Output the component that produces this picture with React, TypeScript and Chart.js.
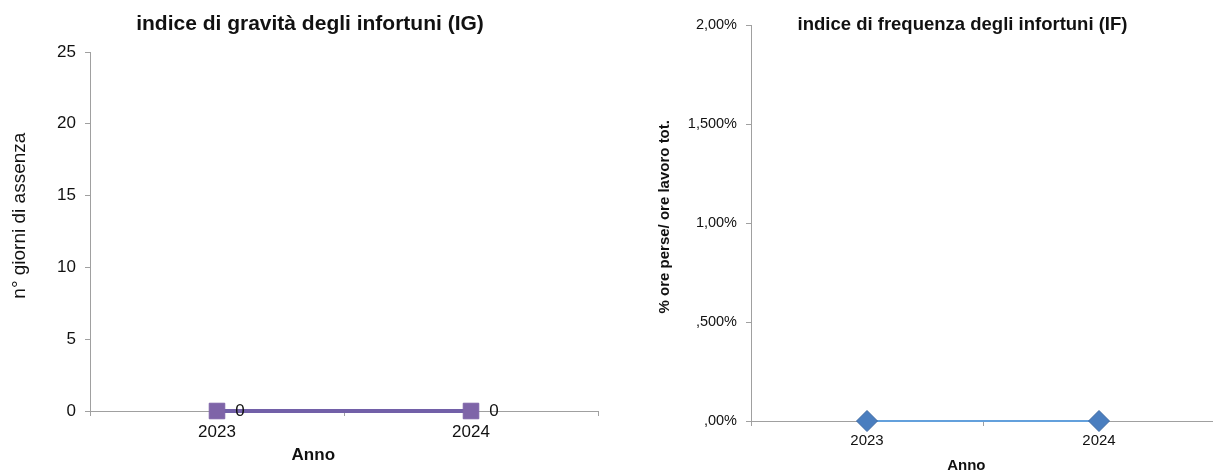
import React, { useEffect, useRef } from 'react';
import { Chart, registerables } from 'chart.js';

Chart.register(...registerables);

// ---- data ----
const years = ['2023', '2024'];
const igValues = [0, 0];
const ifValues = [0, 0];
const ifTickLabels = [',00%', ',500%', '1,00%', '1,500%', '2,00%'];

const igTitle = 'indice di gravità degli infortuni (IG)';
const ifTitle = 'indice di frequenza degli infortuni (IF)';
const igYTitle = '      n° giorni di assenza';
const ifYTitle = '   % ore perse/ ore lavoro tot.';
const igXTitle = 'Anno             ';
const ifXTitle = 'Anno        ';

const FONT = "'Liberation Sans', Arial, Helvetica, sans-serif";
const TEXT = '#111111';
const AXIS = '#A0A0A0';

const valueLabels = {
  id: 'valueLabels',
  afterDatasetsDraw(chart: any, _args: any, opts: any) {
    if (!opts || !opts.display) return;
    const ctx = chart.ctx;
    chart.data.datasets.forEach((ds: any, di: number) => {
      const meta = chart.getDatasetMeta(di);
      meta.data.forEach((pt: any, i: number) => {
        ctx.save();
        ctx.font = `${opts.size}px ${FONT}`;
        ctx.fillStyle = opts.color;
        ctx.textAlign = 'center';
        ctx.textBaseline = 'middle';
        ctx.fillText(String(ds.data[i]), pt.x + opts.offsetX, pt.y);
        ctx.restore();
      });
    });
  },
};

function leftConfig(): any {
  return {
    type: 'line',
    data: {
      labels: years,
      datasets: [
        {
          data: igValues,
          borderColor: '#7260A8',
          borderWidth: 4,
          pointStyle: 'rect',
          pointRadius: 11,
          pointHoverRadius: 11,
          pointBackgroundColor: '#7E64A8',
          pointBorderColor: '#7E64A8',
          pointBorderWidth: 1,
          tension: 0,
          clip: false,
        },
      ],
    },
    plugins: [valueLabels],
    options: {
      animation: false,
      responsive: false,
      events: [],
      layout: { padding: { left: 17, right: 7, top: 0, bottom: 0 } },
      plugins: {
        legend: { display: false },
        tooltip: { enabled: false },
        valueLabels: { display: true, size: 17, color: TEXT, offsetX: 23 },
        title: {
          display: true,
          text: igTitle,
          color: TEXT,
          font: { family: FONT, size: 21, weight: 'bold' },
          padding: { top: 11.7, bottom: 15.1 },
        },
      },
      scales: {
        x: {
          type: 'category',
          offset: true,
          grid: { display: true, offset: true, drawOnChartArea: false, tickLength: 5, color: AXIS },
          border: { display: true, color: AXIS, width: 1 },
          ticks: { font: { family: FONT, size: 17 }, color: TEXT, padding: 6, maxRotation: 0 },
          title: {
            display: true,
            text: igXTitle,
            color: TEXT,
            font: { family: FONT, size: 17, weight: 'bold' },
            padding: { top: 0, bottom: 5.8 },
          },
          afterFit: (s: any) => {
            s.height = 60;
          },
        },
        y: {
          min: 0,
          max: 25,
          grid: { display: true, drawOnChartArea: false, tickLength: 5, color: AXIS },
          border: { display: true, color: AXIS, width: 1 },
          ticks: { stepSize: 5, font: { family: FONT, size: 17 }, color: TEXT, padding: 9 },
          title: {
            display: true,
            text: igYTitle,
            color: TEXT,
            font: { family: FONT, size: 19 },
            padding: { top: -9, bottom: 0 },
          },
          afterFit: (s: any) => {
            s.width = 73;
          },
        },
      },
    },
  };
}

function rightConfig(): any {
  return {
    type: 'line',
    data: {
      labels: years,
      datasets: [
        {
          data: ifValues,
          borderColor: '#63A0DC',
          borderWidth: 2,
          pointStyle: 'rectRot',
          pointRadius: 10.5,
          pointHoverRadius: 10.5,
          pointBackgroundColor: '#4A7EBF',
          pointBorderColor: '#3E6AA3',
          pointBorderWidth: 1,
          tension: 0,
          clip: false,
        },
      ],
    },
    options: {
      animation: false,
      responsive: false,
      events: [],
      layout: { padding: { left: 40, right: 0, top: 0, bottom: 0 } },
      plugins: {
        legend: { display: false },
        tooltip: { enabled: false },
        title: {
          display: true,
          text: ifTitle,
          color: TEXT,
          font: { family: FONT, size: 18.5, weight: 'bold' },
          padding: { top: 13.5, bottom: -10.7 },
        },
      },
      scales: {
        x: {
          type: 'category',
          offset: true,
          grid: { display: true, offset: true, drawOnChartArea: false, tickLength: 5, color: AXIS },
          border: { display: true, color: AXIS, width: 1 },
          ticks: { font: { family: FONT, size: 15 }, color: TEXT, padding: 6, maxRotation: 0 },
          title: {
            display: true,
            text: ifXTitle,
            color: TEXT,
            font: { family: FONT, size: 15, weight: 'bold' },
            padding: { top: 0, bottom: -4 },
          },
          afterFit: (s: any) => {
            s.height = 50;
          },
        },
        y: {
          min: 0,
          max: 2,
          grid: { display: true, drawOnChartArea: false, tickLength: 5, color: AXIS },
          border: { display: true, color: AXIS, width: 1 },
          ticks: {
            stepSize: 0.5,
            font: { family: FONT, size: 14.5 },
            color: TEXT,
            padding: 9,
            callback: (_v: any, i: number) => ifTickLabels[i],
          },
          title: {
            display: true,
            text: ifYTitle,
            color: TEXT,
            font: { family: FONT, size: 15, weight: 'bold' },
            padding: { top: -24.4, bottom: 0 },
          },
          afterFit: (s: any) => {
            s.width = 71;
          },
        },
        pad: {
          type: 'linear',
          position: 'right',
          display: true,
          grid: { display: false },
          border: { display: false },
          ticks: { display: false },
          title: { display: false },
          afterFit: (s: any) => {
            s.width = 30;
          },
        },
      },
    },
  };
}

export default function App() {
  const leftRef = useRef<HTMLCanvasElement>(null);
  const rightRef = useRef<HTMLCanvasElement>(null);

  useEffect(() => {
    const c1 = new Chart(leftRef.current as HTMLCanvasElement, leftConfig());
    const c2 = new Chart(rightRef.current as HTMLCanvasElement, rightConfig());
    return () => {
      c1.destroy();
      c2.destroy();
    };
  }, []);

  return (
    <div
      style={{
        position: 'absolute',
        left: 0,
        top: 0,
        width: 1213,
        height: 471,
        overflow: 'hidden',
        background: '#ffffff',
      }}
    >
      <canvas
        ref={leftRef}
        width={610}
        height={471}
        style={{ position: 'absolute', left: 0, top: 0, width: 610, height: 471 }}
      />
      <canvas
        ref={rightRef}
        width={605}
        height={471}
        style={{ position: 'absolute', left: 640, top: 0, width: 605, height: 471 }}
      />
    </div>
  );
}
